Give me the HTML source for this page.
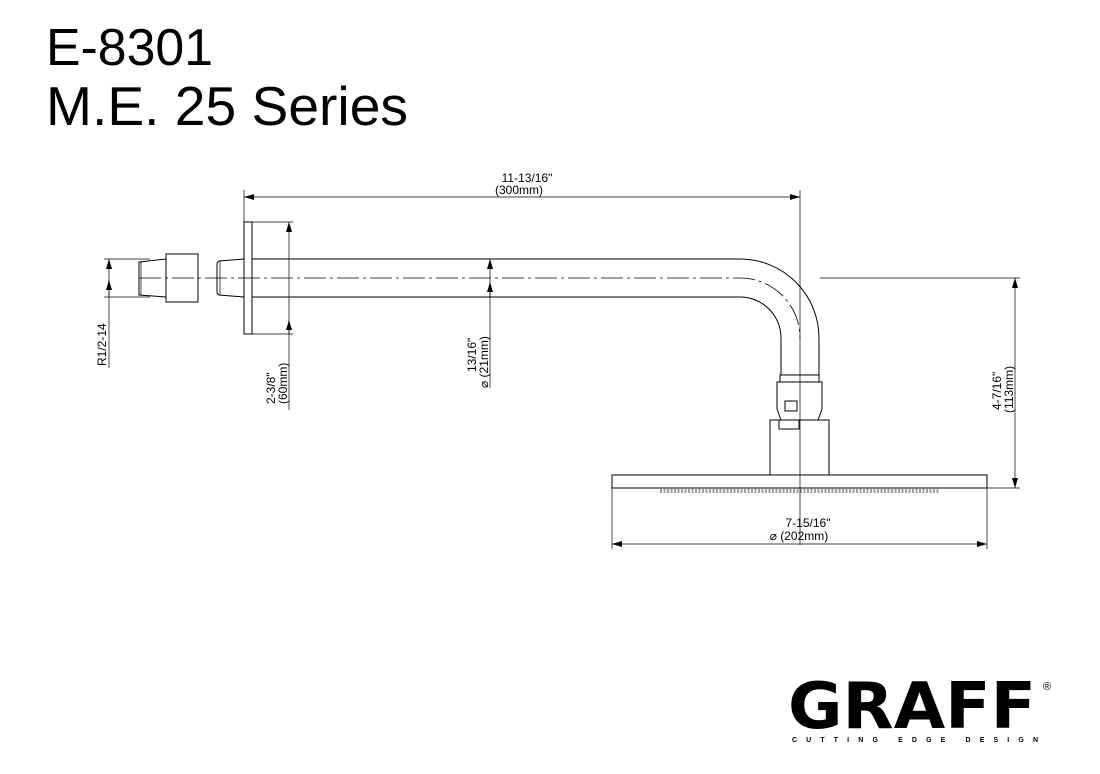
<!DOCTYPE html>
<html><head><meta charset="utf-8"><style>
body{margin:0;background:#fff;width:1100px;height:774px;overflow:hidden}
svg{display:block}
text{font-family:"Liberation Sans",Arial,sans-serif;fill:#000}
.l{stroke:#000;stroke-width:1;fill:none}
.t{stroke:#000;stroke-width:0.7;fill:none}
.c{stroke:#000;stroke-width:0.8;fill:none;stroke-dasharray:22 4 3 4}
</style></head><body>
<svg width="1100" height="774" viewBox="0 0 1100 774">
<defs>
<marker id="a" viewBox="0 0 10 6" refX="10" refY="3" markerWidth="10" markerHeight="6" orient="auto-start-reverse" markerUnits="userSpaceOnUse"><path d="M0,0 L10,3 L0,6 z" fill="#000"/></marker>
</defs>
<text x="46" y="65" font-size="52" textLength="167" lengthAdjust="spacingAndGlyphs">E-8301</text>
<text x="46" y="125" font-size="55" textLength="362" lengthAdjust="spacingAndGlyphs">M.E. 25 Series</text>

<!-- top dimension -->
<line class="t" x1="244" y1="190" x2="244" y2="222"/>
<line class="t" x1="244" y1="197" x2="800" y2="197" marker-start="url(#a)" marker-end="url(#a)"/>
<text x="527" y="182" font-size="12" text-anchor="middle">11-13/16"</text>
<text x="519" y="194" font-size="12" text-anchor="middle">(300mm)</text>

<!-- R1/2-14 -->
<line class="t" x1="104" y1="259" x2="150" y2="259"/>
<line class="t" x1="104" y1="297" x2="150" y2="297"/>
<line class="t" x1="109" y1="259" x2="109" y2="368" marker-start="url(#a)"/>
<line class="t" x1="109" y1="297" x2="109" y2="280" marker-end="url(#a)"/>
<text transform="translate(106,366) rotate(-90)" font-size="12">R1/2-14</text>

<!-- fitting -->
<path class="l" d="M139,262 L166,259 L166,297 L139,295 Z"/>
<line class="t" x1="141" y1="262" x2="141" y2="295"/>
<rect class="l" x="166" y="254" width="32" height="48"/>
<path class="l" d="M217,263 L219,261 L244,259 M217,293 L219,295 L244,297 M217,263 L217,293"/>
<line class="t" x1="220" y1="261" x2="220" y2="295"/>

<!-- flange -->
<rect class="l" x="244" y="222" width="8" height="112"/>
<line class="t" x1="252" y1="222" x2="293" y2="222"/>
<line class="t" x1="252" y1="334" x2="293" y2="334"/>
<line class="t" x1="289" y1="222" x2="289" y2="410" marker-start="url(#a)"/>
<line class="t" x1="289" y1="334" x2="289" y2="320" marker-end="url(#a)"/>
<text transform="translate(275,404) rotate(-90)" font-size="12">2-3/8"</text>
<text transform="translate(287,404) rotate(-90)" font-size="12">(60mm)</text>

<!-- arm -->
<path class="l" d="M252,259 L740,259 A79,79 0 0 1 819,338 L819,375"/>
<path class="l" d="M252,297 L740,297 A41,41 0 0 1 781,338 L781,375"/>
<path class="c" d="M139,278 L740,278 A60,60 0 0 1 800,338"/>
<line class="t" x1="490" y1="259" x2="490" y2="388" marker-start="url(#a)"/>
<line class="t" x1="490" y1="297" x2="490" y2="282" marker-end="url(#a)"/>
<text transform="translate(476,372) rotate(-90)" font-size="12">13/16"</text>
<text transform="translate(488,388) rotate(-90)" font-size="12">⌀ (21mm)</text>

<!-- vertical centerline -->
<line class="t" x1="800" y1="190" x2="800" y2="545"/>

<!-- collar/nut -->
<rect class="l" x="780" y="375" width="39" height="7"/>
<path class="l" d="M777,382 L822,382 L822,409 L818,420 L781,420 L777,409 Z"/>
<rect class="l" x="785" y="401" width="12" height="10"/>
<rect class="l" x="770" y="420" width="59" height="55"/>
<rect class="l" x="779" y="420" width="20" height="9"/>

<!-- head -->
<rect class="l" x="612" y="475" width="375" height="13"/>
<path class="t" stroke-dasharray="2 1.5" d="M660,490 L940,490 M660,492 L940,492"/>

<!-- right dim -->
<line class="t" x1="820" y1="278" x2="1020" y2="278"/>
<line class="t" x1="987" y1="488" x2="1020" y2="488"/>
<line class="t" x1="1015" y1="278" x2="1015" y2="488" marker-start="url(#a)" marker-end="url(#a)"/>
<text transform="translate(1001,410) rotate(-90)" font-size="12">4-7/16"</text>
<text transform="translate(1013,413) rotate(-90)" font-size="12">(113mm)</text>

<!-- bottom dim -->
<line class="t" x1="612" y1="488" x2="612" y2="549"/>
<line class="t" x1="987" y1="488" x2="987" y2="549"/>
<line class="t" x1="612" y1="544" x2="987" y2="544" marker-start="url(#a)" marker-end="url(#a)"/>
<text x="808" y="527" font-size="12" text-anchor="middle">7-15/16"</text>
<text x="799" y="540" font-size="12" text-anchor="middle">⌀ (202mm)</text>

<!-- logo -->
<text x="788" y="728" font-size="64" font-weight="bold" textLength="248" lengthAdjust="spacingAndGlyphs" style="font-family:'DejaVu Sans','Liberation Sans',sans-serif">GRAFF</text>
<text x="1043" y="690" font-size="11">®</text>
<text x="792" y="742" font-size="7" font-weight="bold" textLength="246" lengthAdjust="spacing">CUTTING  EDGE  DESIGN</text>
</svg>
</body></html>
